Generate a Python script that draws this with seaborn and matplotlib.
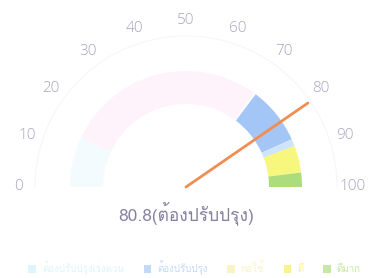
import numpy as np
import matplotlib
matplotlib.use("Agg")
import matplotlib.pyplot as plt
import matplotlib.font_manager as fm
from matplotlib.ft2font import FT2Font
from matplotlib.patches import Wedge, Patch
import seaborn as sns

# gauge data
gauge_value = 80.8
gauge_label = "ต้องปรับปรุง"
tick_values = [0, 10, 20, 30, 40, 50, 60, 70, 80, 90, 100]

band_start = [0, 14, 70.5, 86.5, 88.5, 96]
band_end = [14, 70, 86.5, 88.5, 96, 100]
band_colors = ["#f4fbfe", "#fef3fb", "#a3c6f6", "#cfe3f9", "#f7f77e", "#addc7c"]

legend_names = ["ต้องปรับปรุงเร่งด่วน", "ต้องปรับปรุง", "พอใช้", "ดี", "ดีมาก"]
legend_colors = ["#dff4fb", "#c2d9f8", "#f9f4c4", "#f8f296", "#c6e8a4"]

sns.set_theme(style="white")

# find a font that has Thai glyphs
thai_font = None
for f in fm.fontManager.ttflist:
    try:
        if 0x0E15 in FT2Font(f.fname).get_charmap():
            thai_font = f.name
            break
    except Exception:
        pass
families = [thai_font, "Open Sans", "DejaVu Sans"] if thai_font else ["Open Sans", "DejaVu Sans"]
plt.rcParams["font.family"] = families

W, H = 389, 278
cx, cy = 186, 91


def to_angle(v):
    return 180.0 * (1 - v / 100.0)


fig = plt.figure(figsize=(W / 100, H / 100), dpi=100)
ax = fig.add_axes([0, 0, 1, 1])
ax.set_xlim(0, W)
ax.set_ylim(0, H)
ax.axis("off")

# faint axis arc
t = np.linspace(0, np.pi, 200)
ax.plot(cx + 151 * np.cos(t), cy + 151 * np.sin(t), color="#f6f5f9", lw=0.8, zorder=1)

# bands
for s, e, c in zip(band_start, band_end, band_colors):
    ax.add_patch(Wedge((cx, cy), 116, to_angle(e), to_angle(s), width=33,
                       facecolor=c, edgecolor="none", zorder=2))

# tick labels
for v in tick_values:
    a = np.radians(to_angle(v))
    ax.text(cx + 167 * np.cos(a), cy + 167 * np.sin(a), str(v),
            ha="center", va="center", fontsize=11, color="#aaa5bf",
            family=["Open Sans", "DejaVu Sans"], fontweight="light", zorder=3)

# needle
a = np.radians(to_angle(gauge_value))
sns.lineplot(x=[cx, cx + 148 * np.cos(a)], y=[cy, cy + 148 * np.sin(a)],
             sort=False, color="#f28d52", lw=2, ax=ax, zorder=4)

ax.text(cx, 65, f"{gauge_value}({gauge_label})", ha="center", va="center",
        fontsize=12.5, color="#877fa0", zorder=3)

handles = [Patch(facecolor=c, edgecolor="none") for c in legend_colors]
leg = ax.legend(handles, legend_names, loc="center", bbox_to_anchor=(0.5, 10 / H),
                ncol=5, frameon=False, prop={"family": families, "size": 7},
                handlelength=0.8, handleheight=0.8, handletextpad=0.6,
                columnspacing=2.0)
for txt, c in zip(leg.get_texts(), legend_colors):
    txt.set_color(c)

fig.savefig("out.png", dpi=100)
